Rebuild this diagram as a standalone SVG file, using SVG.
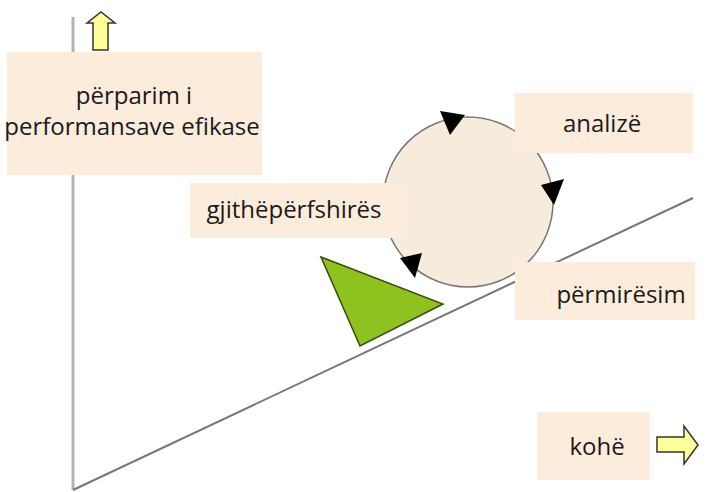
<svg xmlns="http://www.w3.org/2000/svg" width="713" height="492" viewBox="0 0 713 492">
<style>
.box{fill:#fcecdb;}
.lbl{font-family:"Open Sans","Liberation Sans",sans-serif;font-size:24px;fill:#1a1a1a;text-anchor:middle;}
.yarrow{fill:#ffff99;stroke:#333;stroke-width:1.5;stroke-linejoin:miter;}
.head{fill:#000;}
</style>
<rect width="713" height="492" fill="#fff"/>
<g id="connectors">
<line x1="73" y1="17" x2="73" y2="490" stroke="#b3b3b3" stroke-width="3"/>
<line x1="73" y1="490" x2="693" y2="198" stroke="#777" stroke-width="2"/>
</g>
<g id="cycle">
<circle cx="468" cy="202" r="85" fill="#f7ecdc" stroke="#777" stroke-width="1.5"/>
<polygon class="head" points="440,111 465,115 450,135"/>
<polygon class="head" points="541,185 564,179 554,205"/>
<polygon class="head" points="400,258 422,253 415,278"/>
</g>
<g id="wedge">
<polygon points="321,257 443,304 360,346" fill="#8dc21f" stroke="#3d4a10" stroke-width="1.5"/>
</g>
<g id="up-arrow">
<polygon class="yarrow" points="93,50 93,23 87,23 101,12 115,23 108,23 108,50"/>
</g>
<g id="right-arrow">
<polygon class="yarrow" points="657,437 684,437 684,426 698,445 684,464 684,452 657,452"/>
</g>
<g id="node-progress">
<rect class="box" x="7" y="52" width="255" height="123"/>
<text class="lbl" x="134" y="104" font-size="22.5">përparim i</text>
<text class="lbl" x="132" y="135" font-size="22.5">performansave efikase</text>
</g>
<g id="node-gjithe">
<rect class="box" x="190" y="183" width="213" height="55"/>
<text class="lbl" x="294" y="218" font-size="25">gjithëpërfshirës</text>
</g>
<g id="node-analize">
<rect class="box" x="515" y="93" width="178" height="60"/>
<text class="lbl" x="602" y="132">analizë</text>
</g>
<g id="node-permiresim">
<rect class="box" x="515" y="262" width="180" height="58"/>
<text class="lbl" x="621" y="303" font-size="25">përmirësim</text>
</g>
<g id="node-kohe">
<rect class="box" x="537" y="412" width="113" height="68"/>
<text class="lbl" x="597" y="455">kohë</text>
</g>
</svg>
